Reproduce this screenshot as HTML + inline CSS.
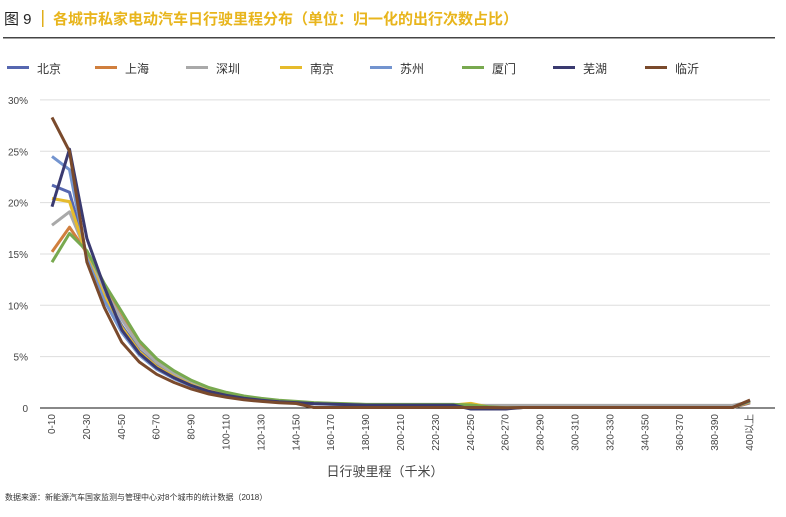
<!DOCTYPE html>
<html><head><meta charset="utf-8"><style>
body{margin:0;background:#fff;width:786px;height:512px;overflow:hidden;font-family:"Liberation Sans","Noto Sans CJK SC",sans-serif;}
</style></head><body>
<svg id="s" width="786" height="512" xmlns="http://www.w3.org/2000/svg" font-family="Liberation Sans, Noto Sans CJK SC, sans-serif">
<text x="4" y="24" font-size="15" fill="#222">图 9</text>
<rect x="42" y="10" width="1.5" height="17" fill="#e0ae1a"/>
<text x="53" y="24" font-size="15" fill="#e8b51c" font-weight="bold">各城市私家电动汽车日行驶里程分布（单位：归一化的出行次数占比）</text>
<rect x="3" y="37" width="772" height="1.5" fill="#444"/>
<g id="leg" font-size="12" fill="#333"></g>
<g id="grid"></g>
<g id="lines"></g>
<text x="385" y="476" font-size="13" fill="#444" text-anchor="middle">日行驶里程（千米）</text>
<text x="5" y="500" font-size="8" fill="#333">数据来源：新能源汽车国家监测与管理中心对8个城市的统计数据（2018）</text>
</svg>
<script>
var NS="http://www.w3.org/2000/svg",s=document.getElementById('s');
function el(p,t,a,txt){var e=document.createElementNS(NS,t);for(var k in a)e.setAttribute(k,a[k]);if(txt)e.textContent=txt;document.getElementById(p).appendChild(e);return e;}
var series=[["北京","#5667b0",21.7,21.0,1.0],["上海","#d07f3e",15.2,17.6,1.1],["深圳","#a9a9a9",17.8,19.1,1.08],["南京","#e6bb2c",20.4,20.1,0.98],["苏州","#7394cf",24.5,23.2,0.92],["厦门","#78a94f",14.2,17.0,1.17],["芜湖","#3a3a70",19.6,25.2,0.95],["临沂","#7a4a2c",28.3,25.0,0.8]];
var lx=[7,95,186,280,370,462,553,645];
series.forEach(function(d,i){el('leg','rect',{x:lx[i],y:66,width:22,height:3,fill:d[1]});el('leg','text',{x:lx[i]+30,y:73},d[0]);});
var y0=408,sc=10.27,x0=52,st=17.45;
for(var g=0;g<=6;g++){var y=y0-g*5*sc;if(g>0)el('grid','line',{x1:40,x2:770,y1:y,y2:y,stroke:'#ddd','stroke-width':1});el('grid','text',{x:28,y:y+4,'font-size':10,fill:'#444','text-anchor':'end'},g==0?'0':(g*5)+'%');}
el('grid','line',{x1:40,x2:775,y1:y0,y2:y0,stroke:'#111','stroke-width':1});
for(var i=0;i<=40;i+=2){var lab=i==40?'400以上':(i*10)+'-'+(i*10+10);var x=x0+i*st+3;el('grid','text',{x:x,y:414,'font-size':10,fill:'#444','text-anchor':'end',transform:'rotate(-90 '+x+' 414)'},lab);}
var base=[0,0,14.8,11.0,8,5.6,4.1,3.1,2.3,1.7,1.3,1.0,0.8,0.65,0.55,0.45,0.4,0.35,0.3,0.3,0.3,0.3,0.3,0.3,0.25,0.1,0.02];
series.forEach(function(d,k){var pts=[];for(var i=0;i<=40;i++){var v;if(i==0)v=d[2];else if(i==1)v=d[3];else if(i<base.length){var f=i==2?1+(d[4]-1)*0.2:(i==3?1+(d[4]-1)*0.6:d[4]);v=base[i]*f;}else v=0.05;
if(i==2&&k==6)v=16.5;if(i==3&&k==6)v=11.8;if(i==3&&k==7)v=9.8;if(i==24&&k==3)v=0.45;if(i>=24&&i<=26&&k==6)v=-0.1;if(k==2&&i>=16&&i<40)v=Math.max(v,0.25);if(k==7&&i>=15&&i<40)v=Math.min(v,0.05);
if(i==40)v=0.5+k*0.04;if(i==39)v=k==2?0.25:0.05;pts.push((x0+i*st).toFixed(1)+','+(y0-v*sc).toFixed(1));}
el('lines','polyline',{points:pts.join(' '),fill:'none',stroke:d[1],'stroke-width':3,'stroke-linejoin':'round'});});
</script>
</body></html>
